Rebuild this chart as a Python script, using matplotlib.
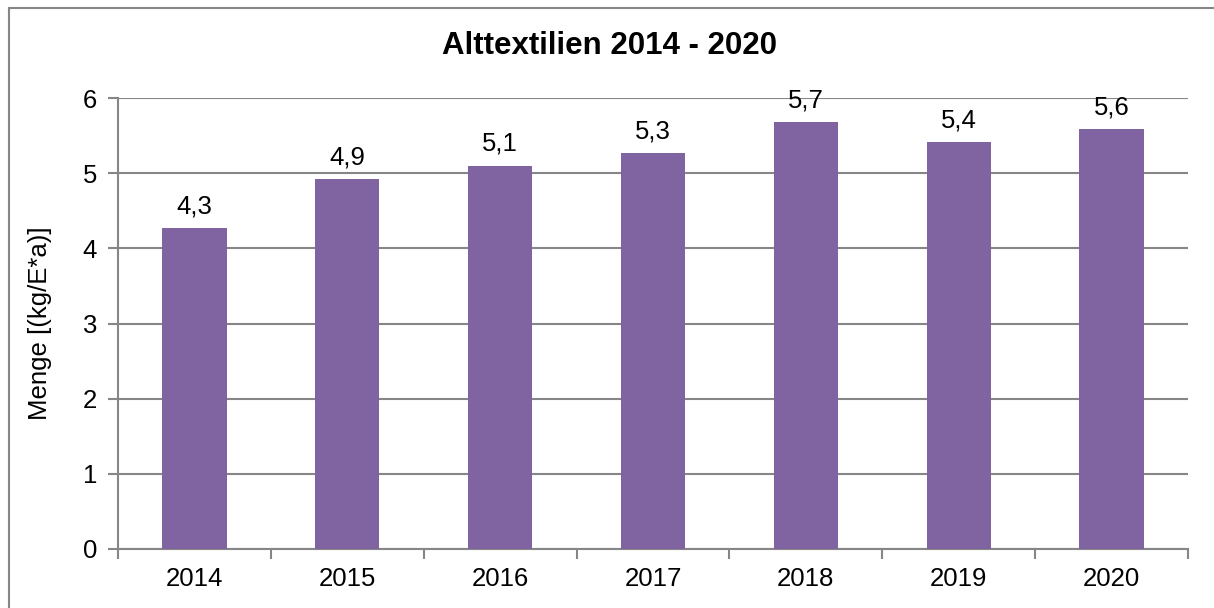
import numpy as np
import matplotlib
matplotlib.use("Agg")
from matplotlib import pyplot as plt
from matplotlib.patches import Rectangle

years = ["2014", "2015", "2016", "2017", "2018", "2019", "2020"]
menge = [4.27, 4.92, 5.10, 5.27, 5.68, 5.41, 5.59]
labels = ["4,3", "4,9", "5,1", "5,3", "5,7", "5,4", "5,6"]

plt.rcParams['font.family'] = ['Liberation Sans', 'DejaVu Sans']
grey = '#868686'
fs = 18.5

fig = plt.figure(figsize=(12.14, 6.08), dpi=100)
ax = fig.add_axes([118 / 1214, 1 - 549 / 608, (1188 - 118) / 1214, (549 - 98) / 608])

x = np.arange(len(years))
ax.bar(x, menge, width=0.42, color='#8064A2', zorder=3)
for xi, v, lab in zip(x, menge, labels):
    ax.annotate(lab, (xi, v), xytext=(0, 7), textcoords='offset points',
                ha='center', va='bottom', fontsize=fs)

ax.set_xlim(-0.5, len(years) - 0.5)
ax.set_ylim(0, 6)
ax.set_yticks(range(7))
ax.set_xticks(x)
ax.set_xticklabels(years)
ax.set_xticks(np.arange(-0.5, len(years)), minor=True)
ax.tick_params(axis='x', which='major', length=0, labelsize=fs, pad=13)
ax.tick_params(axis='x', which='minor', length=7, color=grey, width=1.5)
ax.tick_params(axis='y', length=7, color=grey, width=1.5, labelsize=fs, pad=8)
ax.yaxis.grid(True, color=grey, linewidth=1.5, zorder=0)

for s in ['top', 'right']:
    ax.spines[s].set_visible(False)
for s in ['left', 'bottom']:
    ax.spines[s].set_color(grey)
    ax.spines[s].set_linewidth(1.5)

ax.set_ylabel('Menge [(kg/E*a)]', fontsize=fs, labelpad=22)
fig.text(610 / 1214, 1 - 46 / 608, 'Alttextilien 2014 - 2020', ha='center', va='center',
         fontsize=22.5, fontweight='bold')

# outer chart frame
fig.patches.append(Rectangle((9 / 1214, -0.1), 1.2, 1 - 8 / 608 + 0.1, transform=fig.transFigure,
                             fill=False, edgecolor=grey, linewidth=1.5))

fig.savefig('out.png', dpi=100)
